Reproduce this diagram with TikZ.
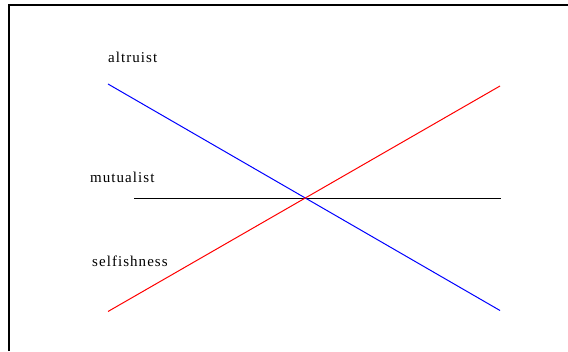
\documentclass[tikz,border=0pt]{standalone}
\usepackage{fontspec}
\setmainfont{Liberation Serif}[LetterSpace=7]
\begin{document}
\begin{tikzpicture}[x=1pt,y=1pt,
  lbl/.style={anchor=base west,inner sep=0pt,font=\fontsize{15}{17}\selectfont},
  ln/.style={line width=1pt}]
\useasboundingbox (0,0) rectangle (568,351);
% frame
\draw[line width=2pt] (9,0) -- (9,346) -- (568,346);
% endpoints
\coordinate (b1) at (108,267);
\coordinate (b2) at (500,40.5);
\coordinate (r1) at (108,39.5);
\coordinate (r2) at (500,265);
\coordinate (m1) at (134,152.5);
\coordinate (m2) at (501,152.5);
\draw[ln,black] (m1) -- (m2);
\draw[ln,blue] (b1) -- (b2);
\draw[ln,red] (r1) -- (r2);
\node[lbl] (altr) at (108,288) {altruist};
\node[lbl] (mutu) at (90,168) {mutualist};
\node[lbl] (self) at (92,84.5) {selfishness};
\end{tikzpicture}
\end{document}
